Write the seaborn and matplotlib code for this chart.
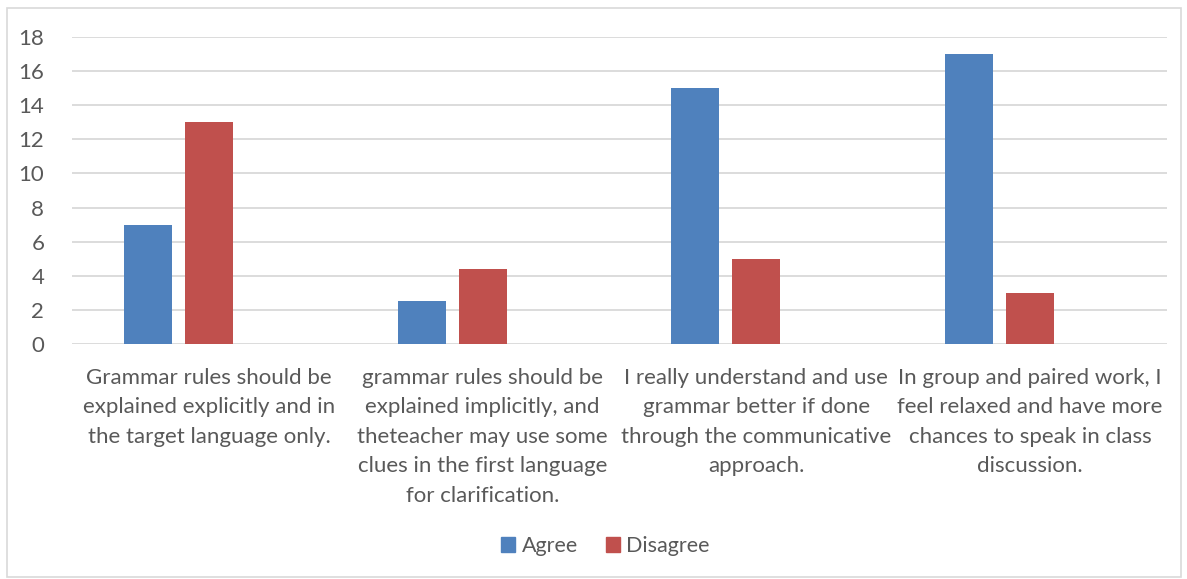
import matplotlib
matplotlib.use("Agg")
import matplotlib.pyplot as plt
import matplotlib.patches as mpatches
import seaborn as sns
import pandas as pd

categories = [
    "Grammar rules should be\nexplained explicitly and in\nthe target language only.",
    "grammar rules should be\nexplained implicitly, and\ntheteacher may use some\nclues in the first language\nfor clarification.",
    "I really understand and use\ngrammar better if done\nthrough the communicative\napproach.",
    "In group and paired work, I\nfeel relaxed and have more\nchances to speak in class\ndiscussion.",
]
agree = [7, 2.5, 15, 17]
disagree = [13, 4.4, 5, 3]
series = ["Agree", "Disagree"]
yticks = [0, 2, 4, 6, 8, 10, 12, 14, 16, 18]

rows = []
for c, a, d in zip(categories, agree, disagree):
    rows.append({"cat": c, "series": "Agree", "value": a})
    rows.append({"cat": c, "series": "Disagree", "value": d})
df = pd.DataFrame(rows)

sns.set_theme(style="white")
plt.rcParams["font.family"] = ["Lato", "DejaVu Sans"]

text_color = "#595959"
colors = {"Agree": "#4F81BD", "Disagree": "#C0504D", "Series3": "#9BBB59"}

fig = plt.figure(figsize=(11.87, 5.79), dpi=100)
ax = fig.add_axes([0.0607, 0.406, 0.9223, 0.530])

sns.barplot(data=df, x="cat", y="value", hue="series",
            hue_order=["Agree", "Disagree", "Series3"], order=categories,
            palette=colors, saturation=1, width=0.668, gap=0.215, errorbar=None,
            legend=False, ax=ax, edgecolor="none", linewidth=0, zorder=3)

ax.set_xlim(-0.5, len(categories) - 0.5)
ax.set_ylim(0, 18)
ax.set_yticks(yticks)
ax.yaxis.grid(True, color="#D9D9D9", linewidth=1.3, zorder=0)
ax.xaxis.grid(False)
ax.set_axisbelow(True)
for s in ax.spines.values():
    s.set_visible(False)
ax.set_xlabel("")
ax.set_ylabel("")
ax.tick_params(axis="y", length=0, pad=20, labelsize=16, labelcolor=text_color)
ax.tick_params(axis="x", length=0, pad=17, labelsize=16, labelcolor=text_color)
for lbl in ax.get_xticklabels():
    lbl.set_linespacing(1.6)
    lbl.set_verticalalignment("top")

handles = [mpatches.Patch(color=colors[s], label=s) for s in series]
fig.legend(handles=handles, loc="center", bbox_to_anchor=(0.51, 0.057),
           ncol=2, frameon=False, fontsize=15.5, labelcolor=text_color,
           handlelength=0.65, handleheight=0.65, handletextpad=0.3,
           columnspacing=1.3)

border = mpatches.Rectangle((0.006, 0.004), 0.989, 0.982, transform=fig.transFigure,
                            fill=False, edgecolor="#D9D9D9", linewidth=1.2)
fig.patches.append(border)

fig.savefig("out.png", dpi=100, facecolor="white")
